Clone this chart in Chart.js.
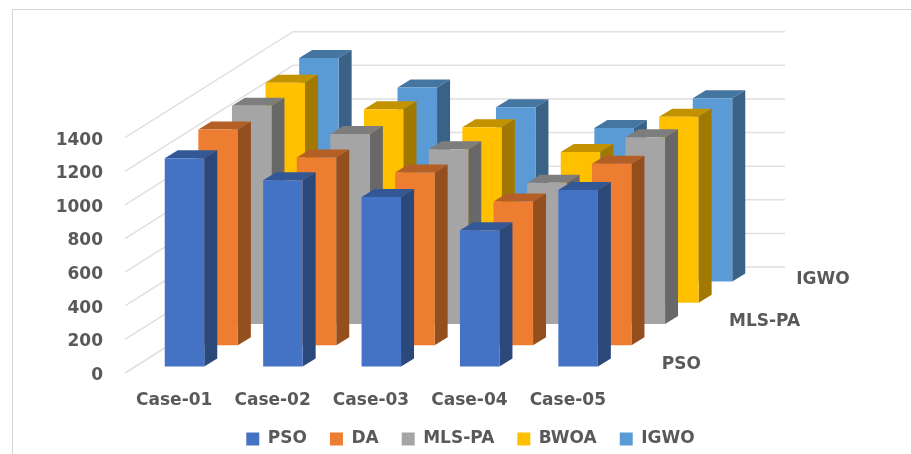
<!DOCTYPE html>
<html>
<head>
<meta charset="utf-8">
<title>Case comparison</title>
<script src="https://cdn.jsdelivr.net/npm/chart.js@4"></script>
<style>
    html, body { margin: 0; padding: 0; background: #fff; overflow: hidden; }
    #wrap { position: relative; width: 911px; height: 454px; }
    #frame {
        position: absolute; left: 12px; top: 9px; right: 0; bottom: 0;
        border-left: 1px solid #d4d4d4; border-top: 1px solid #d4d4d4;
    }
    #chart { position: absolute; left: 0; top: 0; }
</style>
</head>
<body>
<div id="wrap">
    <div id="frame"></div>
    <canvas id="chart" width="911" height="454"></canvas>
</div>
<script>
const categories = ['Case-01', 'Case-02', 'Case-03', 'Case-04', 'Case-05'];
const seriesNames = ['PSO', 'DA', 'MLS-PA', 'BWOA', 'IGWO'];
const depthLabels = ['PSO', 'MLS-PA', 'IGWO'];
const yTicks = [0, 200, 400, 600, 800, 1000, 1200, 1400];

const pso = [1238, 1107, 1008, 810, 1049];
const da = [1284, 1117, 1028, 855, 1079];
const mlsPa = [1298, 1131, 1040, 841, 1111];
const bwoa = [1310, 1151, 1044, 897, 1107];
const igwo = [1331, 1155, 1037, 914, 1091];

const seriesValues = [pso, da, mlsPa, bwoa, igwo];
const seriesColors = ['#4472C4', '#ED7D31', '#A5A5A5', '#FFC000', '#5B9BD5'];

// Projection of one series row onto the screen
const ROW_DX = 33.6;
const ROW_DY = 21.2;
const BAR_DX = 13;
const BAR_DY = 8;

const TEXT_COLOR = '#595959';
const GRID_COLOR = '#e0e0e0';
const LABEL_FONT = { family: '"DejaVu Sans"', size: 17, weight: 'bold' };

function shade(hex, factor) {
    const n = parseInt(hex.slice(1), 16);
    const r = Math.round((n >> 16) * factor);
    const g = Math.round(((n >> 8) & 255) * factor);
    const b = Math.round((n & 255) * factor);
    return `rgb(${r}, ${g}, ${b})`;
}

function polygon(ctx, points, color) {
    ctx.fillStyle = color;
    ctx.beginPath();
    points.forEach((p, i) => (i ? ctx.lineTo(p[0], p[1]) : ctx.moveTo(p[0], p[1])));
    ctx.closePath();
    ctx.fill();
}

// Side wall and back wall lines for every y tick
function drawWalls(chart) {
    const ctx = chart.ctx;
    const { left, right } = chart.chartArea;
    const y = chart.scales.y;
    const rows = seriesNames.length;
    ctx.save();
    ctx.strokeStyle = GRID_COLOR;
    ctx.lineWidth = 1.5;
    y.ticks.forEach(tick => {
        const py = y.getPixelForValue(tick.value);
        ctx.beginPath();
        ctx.moveTo(left, py);
        ctx.lineTo(left + rows * ROW_DX, py - rows * ROW_DY);
        ctx.lineTo(right + rows * ROW_DX, py - rows * ROW_DY);
        ctx.stroke();
    });
    ctx.restore();
}

function drawBox(ctx, el, row, color) {
    const half = el.width / 2;
    const ox = (row + 0.5) * ROW_DX - BAR_DX / 2;
    const oy = (row + 0.5) * ROW_DY - BAR_DY / 2;
    const x0 = el.x + ox - half;
    const x1 = el.x + ox + half;
    const top = el.y - oy;
    const bottom = el.base - oy;

    polygon(ctx, [[x0, top], [x0 + BAR_DX, top - BAR_DY], [x1 + BAR_DX, top - BAR_DY], [x1, top]], shade(color, 0.76));
    polygon(ctx, [[x1, top], [x1 + BAR_DX, top - BAR_DY], [x1 + BAR_DX, bottom - BAR_DY], [x1, bottom]], shade(color, 0.63));
    polygon(ctx, [[x0, top], [x1, top], [x1, bottom], [x0, bottom]], color);
}

const box3d = {
    id: 'box3d',
    beforeDatasetsDraw(chart) {
        drawWalls(chart);
        const ctx = chart.ctx;
        // Back row first so the front rows cover it
        for (let row = seriesNames.length - 1; row >= 0; row--) {
            const color = chart.data.datasets[row].backgroundColor;
            chart.getDatasetMeta(row).data.forEach(el => drawBox(ctx, el, row, color));
        }
        return false;
    },
    afterDraw(chart) {
        // Depth axis names, next to the floor edge on the right
        const ctx = chart.ctx;
        const { right, bottom } = chart.chartArea;
        ctx.save();
        ctx.font = `${LABEL_FONT.weight} ${LABEL_FONT.size}px ${LABEL_FONT.family}`;
        ctx.fillStyle = TEXT_COLOR;
        ctx.textAlign = 'left';
        ctx.textBaseline = 'middle';
        depthLabels.forEach(label => {
            const row = seriesNames.indexOf(label);
            ctx.fillText(label, right + (row + 0.5) * ROW_DX + 28, bottom - (row + 0.5) * ROW_DY + 2);
        });
        ctx.restore();
    }
};

new Chart(document.getElementById('chart'), {
    type: 'bar',
    data: {
        labels: categories,
        datasets: seriesNames.map((name, i) => ({
            label: name,
            data: seriesValues[i],
            backgroundColor: seriesColors[i],
            borderWidth: 0,
            grouped: false,
            barThickness: 39.5
        }))
    },
    options: {
        responsive: false,
        animation: false,
        layout: { padding: { left: 30, top: 137.7, right: 0, bottom: -3.5 } },
        scales: {
            x: {
                grid: { display: false, drawTicks: false },
                border: { display: false },
                ticks: { padding: 17, color: TEXT_COLOR, font: LABEL_FONT, maxRotation: 0 },
                afterFit(scale) { scale.height = 34.5; }
            },
            y: {
                min: 0,
                max: 1400,
                grid: { display: false, drawTicks: false },
                border: { display: false },
                afterBuildTicks(scale) { scale.ticks = yTicks.map(value => ({ value })); },
                ticks: { padding: 22, labelOffset: 2.5, color: TEXT_COLOR, font: LABEL_FONT, callback: value => String(value) },
                afterFit(scale) { scale.width = 95; }
            },
            // Keeps room on the right for the receding floor and depth names
            depth: {
                position: 'right',
                grid: { display: false },
                border: { display: false },
                ticks: { display: false },
                afterFit(scale) { scale.width = 294; }
            }
        },
        plugins: {
            tooltip: { enabled: false },
            legend: {
                position: 'bottom',
                labels: { boxWidth: 13, boxHeight: 13, padding: 23, color: TEXT_COLOR, font: LABEL_FONT }
            }
        }
    },
    plugins: [box3d]
});
</script>
</body>
</html>
